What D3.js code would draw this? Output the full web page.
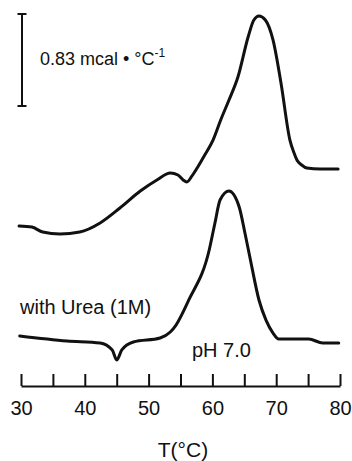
<!DOCTYPE html>
<html>
<head>
<meta charset="utf-8">
<script src="https://cdn.jsdelivr.net/npm/d3@7"></script>
<style>
  body { margin: 0; background: #fff; }
  svg text { font-family: "Liberation Sans", Arial, sans-serif; fill: #111; }
</style>
</head>
<body>
<div class="chart"></div>
<script>
// chart size
var svgWidth = 352;
var svgHeight = 461;

// temperature (deg C) and excess heat capacity (mcal/deg C, offset)
var ureaT = [29.7, 31.7, 33.4, 36.1, 39.2, 42.4, 45.5, 48.7, 51.3, 53.4, 54.6, 55.4, 56.0, 56.8, 57.8, 58.8, 60.1, 61.3, 62.6, 64.0, 65.6, 66.5, 67.3, 68.3, 69.5, 70.75, 72.15, 72.8, 73.25, 74.0, 74.8, 76.9, 79.7];
var ureaCp = [1.444, 1.434, 1.389, 1.371, 1.389, 1.471, 1.606, 1.759, 1.859, 1.922, 1.904, 1.859, 1.841, 1.895, 1.985, 2.084, 2.219, 2.400, 2.580, 2.788, 3.149, 3.302, 3.338, 3.302, 3.122, 2.734, 2.219, 2.102, 2.039, 1.994, 1.967, 1.958, 1.958];

var phT = [29.8, 37.2, 42.4, 44.3, 45.0, 45.8, 47.6, 51.8, 53.4, 54.3, 56.3, 59.5, 60.4, 61.2, 62.6, 64.2, 65.1, 65.9, 67.3, 68.4, 69.5, 70.4, 75.1, 77.3, 79.8];
var phCp = [0.451, 0.406, 0.388, 0.325, 0.235, 0.325, 0.397, 0.433, 0.487, 0.550, 0.776, 1.227, 1.471, 1.678, 1.759, 1.615, 1.380, 1.155, 0.776, 0.595, 0.478, 0.424, 0.424, 0.388, 0.388];

var xTicks = [30, 35, 40, 45, 50, 55, 60, 65, 70, 75, 80];
var scaleBar = 0.83;

var svg = d3.select('.chart')
  .append('svg')
  .attr('width', svgWidth)
  .attr('height', svgHeight);

var x = d3.scaleLinear().domain([30, 80]).range([21, 340]);
var y = d3.scaleLinear().domain([0, 3.4]).range([386, 386 - 3.4 * 110.84]);

var line = d3.line()
  .x(function(d) { return x(d[0]); })
  .y(function(d) { return y(d[1]); })
  .curve(d3.curveMonotoneX);

function draw(ts, vs) {
  svg.append('path')
    .datum(d3.zip(ts, vs))
    .attr('d', line)
    .attr('fill', 'none')
    .attr('stroke', '#111')
    .attr('stroke-width', 3)
    .attr('stroke-linejoin', 'round')
    .attr('stroke-linecap', 'round');
}
draw(ureaT, ureaCp);
draw(phT, phCp);

// x axis, ticks pointing up
var axis = svg.append('g')
  .attr('transform', 'translate(0,' + y(0) + ')')
  .call(d3.axisBottom(x)
    .tickValues(xTicks)
    .tickSizeInner(-12)
    .tickSizeOuter(0)
    .tickPadding(15)
    .tickFormat(function(d) { return d % 10 === 0 ? d : ''; }));
axis.select('.domain').attr('stroke', '#111').attr('stroke-width', 2);
axis.selectAll('.tick line').attr('stroke', '#111').attr('stroke-width', 2);
axis.selectAll('.tick text')
  .style('font-family', '"Liberation Sans", Arial, sans-serif')
  .style('font-size', '20px')
  .attr('fill', '#111');

// axis title
svg.append('text')
  .attr('x', 183)
  .attr('y', 457)
  .attr('text-anchor', 'middle')
  .style('font-size', '21px')
  .text('T(°C)');

// scale bar
var barTop = 14;
var barBottom = barTop + (y(0) - y(scaleBar));
var bar = svg.append('g').attr('stroke', '#111').attr('stroke-width', 2);
bar.append('line').attr('x1', 22).attr('x2', 22).attr('y1', barTop).attr('y2', barBottom);
bar.append('line').attr('x1', 17.5).attr('x2', 26.5).attr('y1', barTop).attr('y2', barTop);
bar.append('line').attr('x1', 17.5).attr('x2', 26.5).attr('y1', barBottom).attr('y2', barBottom);

var lab = svg.append('text')
  .attr('x', 40)
  .attr('y', 65)
  .style('font-size', '18px');
lab.append('tspan').text(scaleBar + ' mcal • °C');
lab.append('tspan').attr('dy', -8).style('font-size', '12px').text('-1');

// curve labels
svg.append('text')
  .attr('x', 20)
  .attr('y', 314)
  .style('font-size', '20px')
  .text('with Urea (1M)');

svg.append('text')
  .attr('x', 192)
  .attr('y', 357)
  .style('font-size', '20px')
  .text('pH 7.0');
</script>
</body>
</html>
